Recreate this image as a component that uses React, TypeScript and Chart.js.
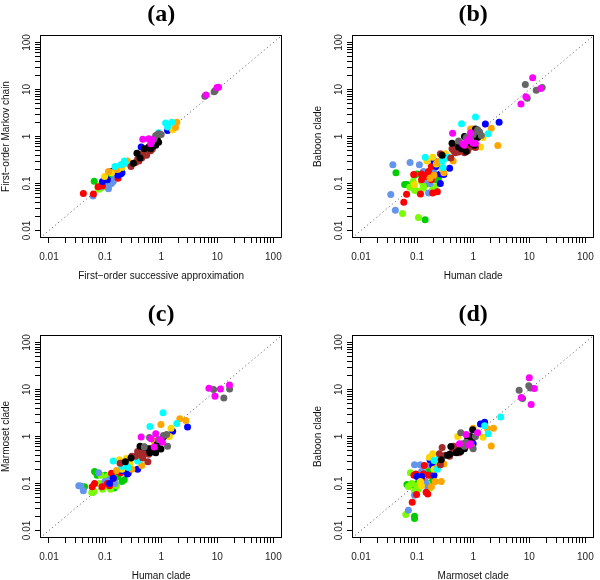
import { useEffect, useRef } from "react";
import { Chart, registerables } from "chart.js";

Chart.register(...registerables);

// ---- colours (R names) ----
const palette: Record<string, string> = {
  R: "#FF0000", // red
  G: "#00CD00", // green3
  L: "#7CFC00", // lawngreen
  C: "#6495ED", // cornflowerblue
  B: "#0000FF", // blue
  Y: "#FFD700", // gold
  O: "#FFA500", // orange
  T: "#00FFFF", // cyan
  N: "#A52A2A", // brown
  K: "#000000", // black
  D: "#666666", // gray40
  M: "#FF00FF", // magenta
};
const drawOrder = ["M", "D", "K", "N", "T", "O", "Y", "B", "R", "C", "L", "G"];

// ---- axis ticks ----
const majorTicks = [0.01, 0.1, 1, 10, 100];
const minorMultipliers = [2, 3, 4, 5, 6, 7, 8, 9];
const axisMinExp = -2.16;
const axisMaxExp = 2.16;

// ---- panel texts ----
const titles = ["(a)", "(b)", "(c)", "(d)"];
const xLabels = ["First\u2212order successive approximation", "Human clade", "Human clade", "Marmoset clade"];
const yLabels = ["First\u2212order Markov chain", "Baboon clade", "Marmoset clade", "Baboon clade"];

// ---- data: [x, y, colourKey] ----
const pointsA: [number, number, string][] = [
  [0.041, 0.061, "R"], [0.062, 0.06, "R"], [0.17, 0.13, "R"], [0.18, 0.16, "R"], [0.09, 0.09, "R"], [0.075, 0.085, "R"],
  [0.061, 0.054, "C"], [0.115, 0.077, "C"], [0.13, 0.1, "C"], [0.14, 0.11, "C"], [0.15, 0.14, "C"], [0.19, 0.2, "C"], [0.085, 0.085, "C"], [0.12, 0.095, "C"],
  [0.064, 0.112, "G"], [0.115, 0.14, "G"], [0.13, 0.13, "G"], [0.09, 0.1, "G"], [0.16, 0.16, "G"],
  [0.075, 0.08, "L"], [0.08, 0.09, "L"], [0.085, 0.08, "L"], [0.095, 0.095, "L"], [0.1, 0.085, "L"], [0.078, 0.075, "L"], [0.15, 0.16, "L"], [0.11, 0.1, "L"], [0.088, 0.088, "L"],
  [0.09, 0.11, "B"], [0.11, 0.12, "B"], [0.13, 0.18, "B"], [0.19, 0.16, "B"], [0.2, 0.17, "B"], [0.44, 0.6, "B"], [1.3, 1.35, "B"], [0.85, 1.0, "B"], [0.17, 0.15, "B"],
  [0.098, 0.14, "Y"], [0.17, 0.2, "Y"], [0.85, 0.95, "Y"], [0.9, 1.1, "Y"], [1.6, 1.4, "Y"], [0.2, 0.22, "Y"], [0.13, 0.17, "Y"],
  [0.115, 0.18, "O"], [0.2, 0.25, "O"], [0.26, 0.27, "O"], [1.8, 1.55, "O"], [1.9, 2.0, "O"], [0.25, 0.3, "O"], [0.7, 0.85, "O"], [0.16, 0.2, "O"], [0.22, 0.28, "O"],
  [0.15, 0.23, "T"], [0.22, 0.3, "T"], [0.23, 0.27, "T"], [1.2, 1.93, "T"], [1.3, 1.6, "T"], [1.55, 2.0, "T"], [0.9, 1.2, "T"], [0.19, 0.25, "T"],
  [0.29, 0.23, "N"], [0.35, 0.28, "N"], [0.45, 0.35, "N"], [0.5, 0.42, "N"], [0.55, 0.45, "N"], [0.6, 0.52, "N"], [0.65, 0.5, "N"], [0.48, 0.4, "N"], [0.7, 0.55, "N"], [0.4, 0.3, "N"], [0.55, 0.4, "N"], [0.42, 0.42, "N"], [0.38, 0.33, "N"],
  [0.32, 0.27, "K"], [0.37, 0.44, "K"], [0.5, 0.55, "K"], [0.6, 0.6, "K"], [0.7, 0.62, "K"], [0.8, 0.65, "K"], [0.65, 0.55, "K"], [0.9, 0.75, "K"], [0.42, 0.35, "K"], [0.85, 0.85, "K"],
  [0.68, 0.75, "D"], [0.8, 1.05, "D"], [0.9, 1.15, "D"], [1.0, 1.1, "D"], [8.8, 9.0, "D"], [9.2, 9.5, "D"], [6.0, 7.2, "D"], [0.75, 0.9, "D"],
  [0.47, 0.87, "M"], [0.6, 0.9, "M"], [0.7, 0.85, "M"], [6.3, 7.6, "M"], [9.9, 11, "M"], [10.5, 11.2, "M"], [0.65, 0.7, "M"],
];

const pointsB: [number, number, string][] = [
  [0.037, 0.25, "C"], [0.034, 0.058, "C"], [0.041, 0.027, "C"], [0.075, 0.28, "C"], [0.11, 0.25, "C"], [0.13, 0.18, "C"], [0.14, 0.12, "C"], [0.16, 0.063, "C"], [0.2, 0.18, "C"], [0.17, 0.1, "C"],
  [0.042, 0.17, "G"], [0.06, 0.095, "G"], [0.066, 0.095, "G"], [0.09, 0.15, "G"], [0.139, 0.017, "G"], [0.15, 0.1, "G"], [0.22, 0.12, "G"], [0.24, 0.13, "G"], [0.2, 0.08, "G"], [0.1, 0.16, "G"],
  [0.055, 0.023, "L"], [0.074, 0.083, "L"], [0.09, 0.072, "L"], [0.1, 0.069, "L"], [0.085, 0.11, "L"], [0.106, 0.019, "L"], [0.13, 0.08, "L"], [0.13, 0.09, "L"], [0.19, 0.075, "L"], [0.21, 0.085, "L"], [0.12, 0.11, "L"],
  [0.058, 0.04, "R"], [0.065, 0.059, "R"], [0.087, 0.155, "R"], [0.115, 0.06, "R"], [0.12, 0.12, "R"], [0.12, 0.16, "R"], [0.15, 0.14, "R"], [0.16, 0.18, "R"], [0.18, 0.23, "R"], [0.18, 0.12, "R"], [0.19, 0.063, "R"], [0.23, 0.067, "R"], [0.14, 0.15, "R"], [0.2, 0.15, "R"],
  [0.15, 0.3, "Y"], [0.19, 0.36, "Y"], [0.32, 0.43, "Y"], [1.35, 0.6, "Y"], [1.5, 0.95, "Y"], [0.22, 0.26, "Y"], [0.09, 0.095, "Y"], [0.28, 0.2, "Y"],
  [0.14, 0.36, "T"], [0.28, 0.3, "T"], [0.3, 0.33, "T"], [0.33, 0.35, "T"], [0.36, 0.36, "T"], [0.62, 1.87, "T"], [1.1, 2.6, "T"], [1.85, 1.15, "T"], [0.29, 0.22, "T"],
  [0.17, 0.13, "O"], [0.2, 0.15, "O"], [0.23, 0.28, "O"], [0.3, 0.17, "O"], [0.44, 0.3, "O"], [0.9, 1.45, "O"], [0.98, 1.45, "O"], [2.1, 1.5, "O"], [2.75, 0.64, "O"], [0.25, 0.3, "O"],
  [0.2, 0.3, "B"], [0.22, 0.23, "B"], [0.26, 0.16, "B"], [0.26, 0.1, "B"], [0.3, 0.155, "B"], [0.38, 0.21, "B"], [1.17, 1.0, "B"], [1.65, 1.85, "B"], [2.9, 2.0, "B"], [0.75, 0.5, "B"],
  [0.26, 0.43, "N"], [0.4, 0.35, "N"], [0.42, 0.55, "N"], [0.45, 0.5, "N"], [0.5, 0.55, "N"], [0.55, 0.47, "N"], [0.6, 0.5, "N"], [0.7, 0.45, "N"], [0.75, 0.55, "N"], [0.8, 0.5, "N"], [0.65, 0.6, "N"], [0.9, 0.6, "N"], [1.1, 0.58, "N"], [0.48, 0.45, "N"], [0.52, 0.62, "N"],
  [0.28, 0.4, "K"], [0.42, 0.72, "K"], [0.55, 0.6, "K"], [0.62, 0.55, "K"], [0.7, 0.58, "K"], [0.75, 0.48, "K"], [0.85, 0.75, "K"], [0.92, 0.72, "K"], [1.05, 0.9, "K"], [1.1, 1.45, "K"], [1.05, 0.65, "K"], [1.2, 0.95, "K"], [0.7, 1.0, "K"],
  [0.55, 0.8, "D"], [0.75, 0.95, "D"], [1.0, 1.1, "D"], [1.3, 1.25, "D"], [1.4, 1.05, "D"], [0.9, 0.85, "D"], [8.5, 12.8, "D"], [13.3, 9.7, "D"], [17, 11, "D"], [9.2, 6.5, "D"], [1.2, 1.4, "D"],
  [0.43, 1.17, "M"], [0.7, 0.65, "M"], [0.78, 0.8, "M"], [0.85, 0.9, "M"], [1.0, 0.72, "M"], [1.1, 0.72, "M"], [0.9, 1.2, "M"], [0.65, 0.7, "M"], [11.5, 17.8, "M"], [8.7, 7.0, "M"], [7.1, 4.9, "M"], [15.9, 10.5, "M"],
];

const pointsC: [number, number, string][] = [
  [0.034, 0.089, "C"], [0.037, 0.088, "C"], [0.041, 0.07, "C"], [0.077, 0.17, "C"], [0.12, 0.12, "C"], [0.15, 0.1, "C"], [0.2, 0.2, "C"], [0.1, 0.11, "C"],
  [0.043, 0.085, "G"], [0.065, 0.18, "G"], [0.072, 0.15, "G"], [0.1, 0.15, "G"], [0.13, 0.1, "G"], [0.145, 0.08, "G"], [0.15, 0.13, "G"], [0.2, 0.11, "G"], [0.22, 0.12, "G"], [0.17, 0.14, "G"], [0.06, 0.065, "G"],
  [0.058, 0.064, "L"], [0.064, 0.068, "L"], [0.08, 0.1, "L"], [0.09, 0.075, "L"], [0.1, 0.085, "L"], [0.11, 0.14, "L"], [0.12, 0.09, "L"], [0.125, 0.075, "L"], [0.16, 0.09, "L"], [0.085, 0.15, "L"],
  [0.059, 0.085, "R"], [0.065, 0.1, "R"], [0.088, 0.085, "R"], [0.13, 0.165, "R"], [0.12, 0.09, "R"], [0.19, 0.17, "R"], [0.14, 0.13, "R"], [0.11, 0.1, "R"],
  [0.12, 0.1, "B"], [0.14, 0.13, "B"], [0.2, 0.19, "B"], [0.25, 0.16, "B"], [0.24, 0.21, "B"], [0.38, 0.2, "B"], [1.6, 1.3, "B"], [2.95, 1.6, "B"], [0.26, 0.17, "B"],
  [0.18, 0.32, "Y"], [0.2, 0.2, "Y"], [0.24, 0.34, "Y"], [0.82, 0.78, "Y"], [1.4, 1.0, "Y"], [1.5, 1.5, "Y"], [0.28, 0.27, "Y"],
  [0.16, 0.19, "O"], [0.2, 0.28, "O"], [0.3, 0.2, "O"], [0.45, 0.24, "O"], [0.75, 0.8, "O"], [0.99, 1.8, "O"], [2.15, 2.4, "O"], [2.75, 2.2, "O"], [0.22, 0.24, "O"],
  [0.14, 0.3, "T"], [0.23, 0.26, "T"], [0.26, 0.22, "T"], [0.38, 0.3, "T"], [0.63, 1.64, "T"], [1.08, 3.2, "T"], [1.9, 1.9, "T"], [0.2, 0.23, "T"],
  [0.185, 0.27, "N"], [0.3, 0.38, "N"], [0.35, 0.38, "N"], [0.4, 0.45, "N"], [0.42, 0.5, "N"], [0.45, 0.4, "N"], [0.5, 0.45, "N"], [0.55, 0.5, "N"], [0.6, 0.42, "N"], [0.65, 0.55, "N"], [0.47, 0.35, "N"], [0.58, 0.29, "N"], [0.38, 0.48, "N"], [0.7, 0.5, "N"],
  [0.23, 0.29, "K"], [0.29, 0.35, "K"], [0.42, 0.62, "K"], [0.5, 0.6, "K"], [0.6, 0.55, "K"], [0.63, 0.45, "K"], [0.75, 0.52, "K"], [0.85, 0.68, "K"], [0.99, 0.54, "K"], [1.1, 0.99, "K"], [0.8, 0.45, "K"],
  [0.5, 0.6, "D"], [0.62, 0.95, "D"], [1.1, 1.05, "D"], [1.25, 1.1, "D"], [1.3, 0.62, "D"], [0.9, 0.85, "D"], [8.6, 10, "D"], [13.1, 6.6, "D"], [16.6, 10.3, "D"],
  [0.44, 0.98, "M"], [0.66, 0.9, "M"], [0.75, 0.6, "M"], [0.8, 1.15, "M"], [0.95, 0.85, "M"], [1.05, 0.75, "M"], [7.1, 10.7, "M"], [9.1, 7.2, "M"], [11.4, 10.2, "M"], [16.5, 12.5, "M"],
];

const pointsD: [number, number, string][] = [
  [0.063, 0.022, "L"], [0.076, 0.17, "L"], [0.07, 0.086, "L"], [0.08, 0.1, "L"], [0.1, 0.09, "L"], [0.105, 0.075, "L"], [0.15, 0.1, "L"], [0.17, 0.08, "L"], [0.09, 0.07, "L"], [0.12, 0.11, "L"],
  [0.07, 0.027, "C"], [0.09, 0.056, "C"], [0.09, 0.25, "C"], [0.114, 0.25, "C"], [0.12, 0.18, "C"], [0.13, 0.17, "C"], [0.14, 0.11, "C"], [0.15, 0.09, "C"], [0.17, 0.25, "C"], [0.18, 0.25, "C"],
  [0.09, 0.018, "G"], [0.09, 0.02, "G"], [0.066, 0.095, "G"], [0.085, 0.095, "G"], [0.1, 0.1, "G"], [0.17, 0.1, "G"], [0.19, 0.12, "G"], [0.2, 0.11, "G"], [0.12, 0.15, "G"], [0.16, 0.18, "G"],
  [0.082, 0.04, "R"], [0.098, 0.058, "R"], [0.088, 0.15, "R"], [0.095, 0.16, "R"], [0.135, 0.24, "R"], [0.13, 0.16, "R"], [0.12, 0.13, "R"], [0.145, 0.065, "R"], [0.155, 0.06, "R"], [0.16, 0.15, "R"], [0.2, 0.24, "R"],
  [0.1, 0.14, "B"], [0.12, 0.14, "B"], [0.17, 0.32, "B"], [0.19, 0.24, "B"], [0.2, 0.15, "B"], [0.22, 0.28, "B"], [1.0, 0.7, "B"], [1.35, 1.85, "B"], [1.6, 2.0, "B"], [0.85, 0.75, "B"],
  [0.115, 0.11, "Y"], [0.12, 0.09, "Y"], [0.165, 0.36, "Y"], [0.19, 0.43, "Y"], [0.2, 0.2, "Y"], [0.53, 1.0, "Y"], [0.85, 0.68, "Y"], [0.95, 0.6, "Y"], [1.5, 0.96, "Y"], [0.25, 0.3, "Y"],
  [0.18, 0.085, "O"], [0.21, 0.11, "O"], [0.27, 0.11, "O"], [0.23, 0.22, "O"], [0.22, 0.3, "O"], [0.3, 0.26, "O"], [1.0, 1.5, "O"], [1.8, 1.47, "O"], [2.3, 1.5, "O"], [2.1, 0.63, "O"],
  [0.2, 0.31, "T"], [0.27, 0.37, "T"], [0.25, 0.35, "T"], [1.6, 1.7, "T"], [1.85, 1.15, "T"], [3.1, 2.6, "T"], [0.23, 0.2, "T"],
  [0.25, 0.43, "N"], [0.26, 0.25, "N"], [0.28, 0.58, "N"], [0.32, 0.4, "N"], [0.38, 0.38, "N"], [0.42, 0.45, "N"], [0.48, 0.58, "N"], [0.52, 0.5, "N"], [0.56, 0.45, "N"], [0.6, 0.55, "N"], [0.65, 0.6, "N"], [0.45, 0.62, "N"],
  [0.27, 0.32, "K"], [0.35, 0.4, "K"], [0.38, 0.42, "K"], [0.4, 0.61, "K"], [0.5, 0.45, "K"], [0.55, 0.5, "K"], [0.6, 0.48, "K"], [0.8, 0.9, "K"], [0.9, 1.0, "K"], [0.98, 1.4, "K"], [0.7, 0.55, "K"], [1.0, 0.95, "K"],
  [0.6, 1.2, "D"], [0.65, 0.7, "D"], [0.7, 0.62, "D"], [0.75, 0.75, "D"], [1.0, 0.55, "D"], [1.1, 1.0, "D"], [6.6, 9.7, "D"], [7.6, 6.4, "D"], [9.8, 12, "D"], [10.5, 10.8, "D"],
  [0.57, 0.7, "M"], [0.75, 1.1, "M"], [0.85, 0.65, "M"], [0.9, 0.7, "M"], [1.2, 1.2, "M"], [7.2, 6.8, "M"], [10.0, 17.8, "M"], [12.3, 10.5, "M"], [10.8, 4.8, "M"],
];

const panelPoints = [pointsA, pointsB, pointsC, pointsD];
const panelPos = [
  { left: 0, top: 0 },
  { left: 312, top: 0 },
  { left: 0, top: 300 },
  { left: 312, top: 300 },
];

const tickValues: number[] = [];
majorTicks.forEach((m, i) => {
  tickValues.push(m);
  if (i < majorTicks.length - 1) minorMultipliers.forEach((k) => tickValues.push(m * k));
});

const boxPlugin = {
  id: "rbox",
  afterDraw(chart: any) {
    const { ctx, chartArea } = chart;
    const { left, top, right, bottom } = chartArea;
    ctx.save();
    ctx.strokeStyle = "#000";
    ctx.lineWidth = 1;
    ctx.strokeRect(Math.round(left) + 0.5, Math.round(top) + 0.5, Math.round(right) - Math.round(left) - 1, Math.round(bottom) - Math.round(top) - 1);
    ctx.restore();
  },
};

function Panel({ idx }: { idx: number }) {
  const ref = useRef<HTMLCanvasElement | null>(null);
  useEffect(() => {
    if (!ref.current) return;
    const axisMin = Math.pow(10, axisMinExp);
    const axisMax = Math.pow(10, axisMaxExp);
    const pts = panelPoints[idx];
    const datasets: any[] = drawOrder.map((key) => ({
      type: "scatter",
      data: pts.filter((p) => p[2] === key).map((p) => ({ x: p[0], y: p[1] })),
      backgroundColor: palette[key],
      borderColor: palette[key],
      borderWidth: 0,
      pointRadius: 3.5,
      pointHoverRadius: 3.5,
    }));
    datasets.push({
      type: "line",
      data: [
        { x: axisMin, y: axisMin },
        { x: axisMax, y: axisMax },
      ],
      borderColor: "#555",
      borderWidth: 1,
      borderDash: [1, 3],
      pointRadius: 0,
      fill: false,
    });
    const tickFont = { family: "'Liberation Sans', Arial, sans-serif", size: 10 };
    const labelCb = (v: any) => (majorTicks.includes(Number(v)) ? String(v) : "");
    const grid = { display: true, drawOnChartArea: false, drawTicks: true, tickLength: 5, color: "#000", tickColor: "#000", lineWidth: 1 };
    const chart = new Chart(ref.current, {
      type: "scatter",
      data: { datasets },
      options: {
        animation: false,
        responsive: false,
        events: [],
        layout: { padding: { left: 0, right: 3, top: 0, bottom: 0 } },
        plugins: {
          legend: { display: false },
          tooltip: { enabled: false },
          title: {
            display: true,
            text: titles[idx],
            fullSize: false,
            color: "#000",
            font: { family: "'Liberation Serif', 'Times New Roman', serif", size: 24, weight: "bold", lineHeight: 1.2 },
            padding: { top: 0, bottom: 6.2 },
          },
        },
        scales: {
          x: {
            type: "logarithmic",
            position: "bottom",
            min: axisMin,
            max: axisMax,
            bounds: "data",
            afterBuildTicks: (s: any) => {
              s.ticks = tickValues.map((v) => ({ value: v }));
            },
            afterFit: (s: any) => {
              s.height = 52;
            },
            ticks: { autoSkip: false, minRotation: 0, maxRotation: 0, padding: 8, color: "#222", font: tickFont, callback: labelCb },
            grid,
            border: { display: false },
            title: { display: true, text: xLabels[idx], color: "#111", font: tickFont, padding: { top: 0, bottom: 8 } },
          },
          y: {
            type: "logarithmic",
            position: "left",
            min: axisMin,
            max: axisMax,
            bounds: "data",
            afterBuildTicks: (s: any) => {
              s.ticks = tickValues.map((v) => ({ value: v }));
            },
            afterFit: (s: any) => {
              s.width = 40;
            },
            ticks: { autoSkip: false, minRotation: 90, maxRotation: 90, crossAlign: "center", padding: -1.5, color: "#222", font: tickFont, callback: labelCb },
            grid,
            border: { display: false },
            title: { display: true, text: yLabels[idx], color: "#111", font: tickFont, padding: { top: 0, bottom: 0 } },
          },
        },
      } as any,
      plugins: [boxPlugin],
    });
    return () => chart.destroy();
  }, [idx]);
  const pos = panelPos[idx];
  return <canvas ref={ref} width={290} height={290} style={{ position: "absolute", left: pos.left, top: pos.top, width: 290, height: 290 }} />;
}

export default function App() {
  return (
    <div style={{ position: "fixed", left: 0, top: 0, width: 600, height: 580, overflow: "hidden", background: "#fff" }}>
      {[0, 1, 2, 3].map((i) => (
        <Panel key={i} idx={i} />
      ))}
    </div>
  );
}
